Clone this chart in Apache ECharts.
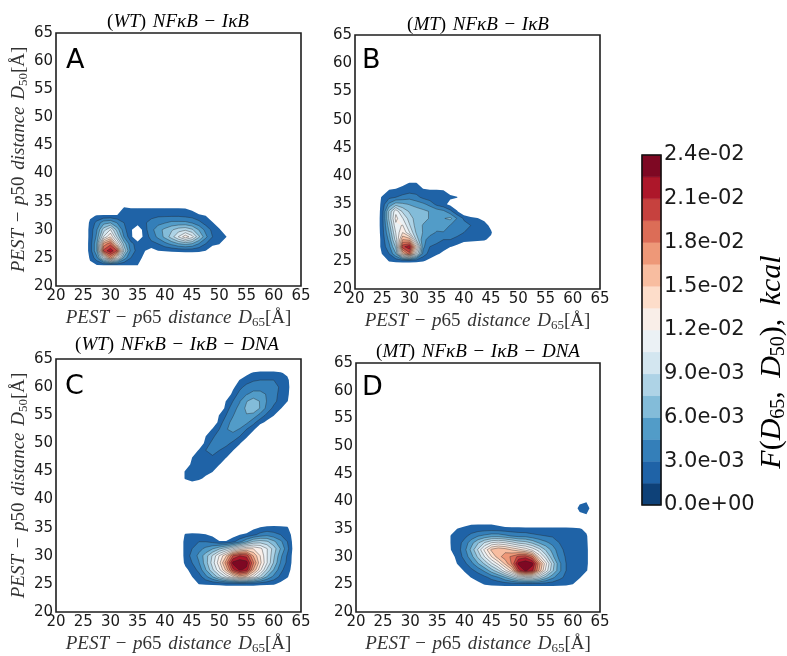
<!DOCTYPE html>
<html>
<head>
<meta charset="utf-8">
<script src="https://cdn.jsdelivr.net/npm/echarts@6/dist/echarts.min.js"></script>
<style>
  html, body { margin: 0; padding: 0; background: #fff; }
  #chart { width: 787px; height: 656px; }
</style>
</head>
<body>
<div id="chart"></div>
<script>
// ---------------- data ----------------
// densities are given in units of 1e-3 (kcal), sampled every 1.25 Å
const UNIT = 1e-3;
const SAMPLE_STEP = 1.25;
const AXIS_MIN = 20, AXIS_MAX = 65, AXIS_INTERVAL = 5;

// filled-contour level boundaries (units of 1e-3); samples below the
// second level are left blank, as in the masked original field
const levels = [0, 1.5, 3, 4.5, 6, 7.5, 9, 10.5, 12, 13.5, 15, 16.5, 18, 19.5, 21, 22.5, 24];
const firstShownBand = 1;
const colorbarTicks = [0, 3, 6, 9, 12, 15, 18, 21, 24];

const panelTitles = [['WT', ''], ['MT', ''], ['WT', 'DNA'], ['MT', 'DNA']];
const panelLetters = ['A', 'B', 'C', 'D'];

// each row: [D50, first D65, densities at D65, D65+1.25, ...]
const densityA = [
  [23.75, 25, [0, 1.2, 1.5, 1.6, 1.6, 1.6, 1.6, 1.6, 1.55, 0, 0, 0, 0, 0, 0, 0, 0, 0, 0, 0, 0, 0, 0]],
  [25,    25, [0, 1.7, 4, 9.7, 17, 11.6, 5.4, 3, 2.1, 1.1, 0, 0, 0, 0, 0, 0, 0, 0, 0, 0, 0, 0, 0]],
  [26.25, 25, [0, 2.1, 5.9, 20, 22.1, 19.5, 8.7, 4, 2.4, 1.6, .75, 1.5, 1.6, 1.7, 1.8, 1.9, 1.9, 1.8, 1.5, 0, 0, 0, 0]],
  [27.5,  25, [0, 2.1, 5.9, 17, 19, 12.5, 6.8, 3.5, 2.3, 2.3, 2.6, 3, 4, 4.9, 5.9, 6.4, 5.9, 4.4, 3, 2.1, 1.6, 0, 0]],
  [28.75, 25, [0, 2, 4.9, 10.6, 13.5, 8.7, 4.4, 1.9, 0, 2.1, 3.5, 4.9, 6.4, 8.3, 10.6, 13, 11.1, 7.8, 4.9, 3, 2.3, 1.6, 0]],
  [30,    25, [0, 2, 4.4, 8.3, 10.6, 6.8, 3.5, 1.8, 0, 2.4, 4, 5.4, 6.4, 7.3, 8.3, 8.7, 7.8, 5.9, 4, 2.6, 1.8, 0, 0]],
  [31.25, 25, [0, 1.8, 3.5, 5.4, 5.9, 4.4, 3, 2.4, 2.3, 2.8, 3.5, 4, 4.4, 4.9, 4.9, 4.9, 4.4, 3.5, 2.4, 1.7, 0, 0, 0]],
  [32.5,  25, [0, 1.2, 1.6, 1.7, 1.7, 1.7, 2.6, 2.4, 2.3, 2.5, 2.6, 2.8, 2.8, 2.8, 2.8, 2.6, 2.4, 1.9, 1.5, 0, 0, 0, 0]],
  [33.75, 25, [0, 0, 0, 0, 0, 0, 1.9, 1.6, 1.6, 1.6, 1.6, 1.6, 1.6, 1.6, 1.6, 1.55, 1.1, 0, 0, 0, 0, 0, 0]]
];

const densityB = [
  [25,    23.75, [0, 0, 1.7, 1.9, 2, 2, 1.9, 1.7, 1.1, 0, 0, 0, 0, 0, 0, 0, 0, 0, 0]],
  [26.25, 23.75, [0, 1.6, 3, 5.9, 15, 19, 10.6, 4, 2.3, 1.8, 1.1, 0, 0, 0, 0, 0, 0, 0, 0]],
  [27.5,  23.75, [0, 2.1, 4, 7.8, 20.5, 22.1, 13.5, 4.9, 3, 2.6, 2.1, 1.6, 1.1, 0, 0, 0, 0, 0, 0]],
  [28.75, 23.75, [0, 2.1, 4.9, 9.7, 16.5, 16, 8.7, 4.9, 4, 3.5, 3, 3, 2.6, 2.3, 2.1, 1.9, 1.7, 1.1, 0]],
  [30,    23.75, [0, 2.3, 5.9, 10.6, 13.5, 10.6, 7.3, 5.9, 4.9, 4.4, 4.4, 4, 3.5, 3, 3, 2.6, 2.3, 1.7, 0]],
  [31.25, 23.75, [0, 2.4, 6.8, 11.6, 12.1, 9.2, 6.8, 5.9, 5.4, 4.9, 5.4, 4.4, 4, 3.5, 3, 2.6, 2.1, 1.1, 0]],
  [32.5,  23.75, [0, 2.4, 7.8, 12.5, 10.6, 8.3, 6.8, 6.4, 5.9, 5.4, 5.9, 6.4, 4.4, 2.8, 1.9, 1.6, 1.1, 0, 0]],
  [33.75, 23.75, [0, 2.3, 7.8, 11.6, 8.7, 7.3, 6.8, 6.4, 5.9, 5.4, 4.9, 3.5, 1.7, 0, 0, 0, 0, 0, 0]],
  [35,    23.75, [0, 2.1, 4.9, 6.8, 6.4, 5.9, 5.4, 4.9, 4, 2.6, 1.9, 1.1, 0, 0, 0, 0, 0, 0, 0]],
  [36.25, 23.75, [0, 1.8, 2.6, 3, 3.5, 4, 3.5, 2.6, 2.1, 1.6, 1.6, 1.7, 1.6, 0, 0, 0, 0, 0, 0]],
  [37.5,  23.75, [0, 0, 1.6, 1.9, 2.1, 2.3, 2.3, 1.7, 1.6, 1.6, 1.5, 1.1, 0, 0, 0, 0, 0, 0, 0]],
  [38.75, 23.75, [0, 0, 0, 0, 1.1, 1.6, 1.6, .75, 0, 0, 0, 0, 0, 0, 0, 0, 0, 0, 0]]
];

const densityC = [
  [25,    42.5, [0, 0, 0, 1.6, 1.7, 1.8, 1.9, 2, 2, 2, 2, 2, 1.9, 1.8, 1.7, 1.1, 0, 0, 0]],
  [26.25, 42.5, [0, 0, 1.5, 2.3, 4, 5.9, 8.3, 10.6, 13, 15.4, 14.4, 11.6, 8.7, 5.9, 4, 2.6, 1.7, 0, 0]],
  [27.5,  42.5, [0, 1.1, 2.1, 3.5, 5.9, 8.7, 11.6, 15.4, 20.5, 22.8, 22, 16.4, 12.5, 8.7, 5.9, 3.5, 2.1, .75, 0]],
  [28.75, 42.5, [0, 1.9, 3, 4.4, 6.8, 9.7, 13, 17.3, 23, 23.8, 23.2, 18.3, 14, 10.6, 7.3, 4.4, 2.6, .75, 0]],
  [30,    42.5, [0, 2.1, 3.5, 4.9, 6.8, 9.2, 12.1, 14.9, 19.5, 21, 20.5, 16.4, 13.5, 10.6, 7.8, 4.9, 2.8, .75, 0]],
  [31.25, 42.5, [0, 2.1, 3, 4, 4.9, 5.9, 7.3, 8.7, 10.6, 12.5, 13.5, 13.5, 12.5, 10.6, 8.3, 5.9, 3.5, .75, 0]],
  [32.5,  42.5, [0, 2.1, 2.6, 3, 3, 2.6, 1.7, 1.7, 2.6, 4, 5.9, 7.8, 8.3, 7.8, 6.4, 4.9, 3, .75, 0]],
  [33.75, 42.5, [0, 1.7, 1.9, 1.8, 1.6, 1.1, 0, 0, .75, 1.5, 1.9, 2.6, 3.5, 4, 3.5, 3, 2.3, .75, 0]],
  [35,    42.5, [0, 0, 0, 0, 0, 0, 0, 0, 0, 0, 0, 1.1, 1.6, 1.9, 2, 1.9, 1.7, 0, 0]],
  // diagonal branch
  [43.75, 42.5, [0, 1.7, 2.6, 1.9, 1.1, 0, 0, 0, 0, 0, 0, 0, 0, 0, 0, 0, 0, 0]],
  [45,    42.5, [0, 1.7, 3, 2.6, 2.1, 1.6, 0, 0, 0, 0, 0, 0, 0, 0, 0, 0, 0, 0]],
  [46.25, 42.5, [0, 0, 2.1, 3, 2.6, 2.1, 1.6, 0, 0, 0, 0, 0, 0, 0, 0, 0, 0, 0]],
  [47.5,  42.5, [0, 0, 1.5, 2.6, 3, 2.8, 2.1, 1.6, 0, 0, 0, 0, 0, 0, 0, 0, 0, 0]],
  [48.75, 42.5, [0, 0, 0, 1.7, 3, 3.5, 3, 2.3, 1.6, 0, 0, 0, 0, 0, 0, 0, 0, 0]],
  [50,    42.5, [0, 0, 0, 0, 2.1, 3.5, 4, 3.5, 2.6, 1.7, 0, 0, 0, 0, 0, 0, 0, 0]],
  [51.25, 42.5, [0, 0, 0, 0, 1.5, 2.6, 4, 4.4, 4, 3, 1.9, 0, 0, 0, 0, 0, 0, 0]],
  [52.5,  42.5, [0, 0, 0, 0, 0, 1.7, 3, 4.4, 4.9, 4.4, 3, 1.9, 0, 0, 0, 0, 0, 0]],
  [53.75, 42.5, [0, 0, 0, 0, 0, 0, 2.1, 4, 4.9, 5.4, 4.9, 3.5, 2.1, 1.1, 0, 0, 0, 0]],
  [55,    42.5, [0, 0, 0, 0, 0, 0, 1.6, 3, 4.4, 5.4, 5.9, 5.4, 4, 2.6, 1.6, 0, 0, 0]],
  [56.25, 42.5, [0, 0, 0, 0, 0, 0, 0, 2.1, 4, 4.9, 6.4, 7.3, 5.9, 4, 2.6, 1.7, 0, 0]],
  [57.5,  42.5, [0, 0, 0, 0, 0, 0, 0, 1.6, 3, 4.4, 5.9, 6.8, 5.9, 4.4, 3.5, 2.3, 1.6, 0]],
  [58.75, 42.5, [0, 0, 0, 0, 0, 0, 0, 0, 2.1, 3.5, 4.4, 4.9, 4.9, 4.4, 3.5, 2.6, 1.9, 0]],
  [60,    42.5, [0, 0, 0, 0, 0, 0, 0, 0, 1.1, 2.6, 3.5, 4, 4, 4, 3.5, 2.8, 2.1, 0]],
  [61.25, 42.5, [0, 0, 0, 0, 0, 0, 0, 0, 0, 1.6, 2.3, 2.8, 3, 3, 3, 2.6, 1.9, 0]],
  [62.5,  42.5, [0, 0, 0, 0, 0, 0, 0, 0, 0, 0, 1.1, 1.7, 1.9, 1.9, 1.9, 1.7, 1.1, 0]]
];

const densityD = [
  [25,    36.25, [0, 0, 0, 0, 0, 1.1, 1.6, 1.8, 1.9, 2, 2, 2, 2, 2, 2, 2, 2, 1.9, 1.8, 1.5, 0, 0, 0, 0]],
  [26.25, 36.25, [0, 0, 0, 0, 1.6, 2.1, 2.6, 3.5, 4.4, 5.9, 7.8, 9.7, 10.6, 10.6, 9.2, 6.8, 4.9, 3.5, 2.6, 2.1, 1.7, 0, 0, 0]],
  [27.5,  36.25, [0, 0, 0, 1.8, 2.6, 3.5, 4.9, 6.8, 8.7, 11.6, 14.4, 20.5, 22.8, 21.5, 16.4, 11.6, 7.8, 4.9, 3, 2.4, 2.1, 1.7, 0, 0]],
  [28.75, 36.25, [0, 0, 1.7, 2.6, 4, 5.9, 7.8, 10.2, 12.5, 15.4, 18.3, 23, 23.8, 23, 17.3, 12.5, 8.3, 4.9, 3, 2.4, 2.3, 1.9, 0, 0]],
  [30,    36.25, [0, .75, 2.1, 3.5, 5.4, 7.8, 10.6, 13.5, 15.9, 17.3, 18.3, 20, 20.5, 18.5, 13, 9.7, 6.4, 4, 2.8, 2.4, 2.3, 1.9, 0, 0]],
  [31.25, 36.25, [0, 1.5, 2.3, 4, 6.4, 9.2, 12.5, 15.4, 16.4, 15.9, 14.9, 14, 13, 11.6, 9.7, 7.3, 5.4, 3.5, 2.6, 2.4, 2.3, 1.9, 0, 0]],
  [32.5,  36.25, [0, 1.6, 2.4, 3.5, 5.4, 7.3, 9.2, 10.6, 11.1, 10.6, 9.7, 8.7, 8.3, 7.3, 5.9, 4.9, 4, 3, 2.6, 2.3, 2.2, 1.8, 0, 0]],
  [33.75, 36.25, [0, 1.6, 2.1, 2.6, 3.5, 4.4, 4.9, 5.4, 5.4, 4.9, 4.4, 4, 4, 3.5, 3.2, 3, 2.8, 2.6, 2.4, 2.3, 2.1, 1.7, 0, 0]],
  [35,    36.25, [0, .75, 1.6, 1.9, 2.1, 2.2, 2.3, 2.3, 2.2, 2.1, 2, 2, 1.9, 1.9, 1.9, 1.9, 1.9, 1.9, 1.9, 1.8, 1.7, 1.1, 0, 0]],
  [36.25, 36.25, [0, 0, 0, .75, 1.1, 1.1, 1.1, 1.1, .75, 0, 0, 0, 0, 0, 0, 0, 0, 0, 0, 0, 0, 0, 0, 0]],
  [37.5,  36.25, [0, 0, 0, 0, 0, 0, 0, 0, 0, 0, 0, 0, 0, 0, 0, 0, 0, 0, 0, 0, .9, 1.3, 0, 0]],
  [38.75, 36.25, [0, 0, 0, 0, 0, 0, 0, 0, 0, 0, 0, 0, 0, 0, 0, 0, 0, 0, 0, 0, 2.2, 2.7, 0, 0]],
  [40,    36.25, [0, 0, 0, 0, 0, 0, 0, 0, 0, 0, 0, 0, 0, 0, 0, 0, 0, 0, 0, 0, .9, 1.3, 0, 0]]
];

const panelDensities = [densityA, densityB, densityC, densityD];

// ---------------- layout & style ----------------
const panelBoxes = [
  { left: 56,  top: 33,  width: 245, height: 253 },
  { left: 355, top: 35,  width: 245, height: 254 },
  { left: 56,  top: 359, width: 245, height: 253 },
  { left: 356, top: 363, width: 244, height: 252 }
];
const colorbarBox = { left: 642, top: 155, width: 19, height: 350 };

// RdBu colormap, reversed (low = blue, high = red)
const rdbuStops = ['#053061', '#2166ac', '#4393c3', '#92c5de', '#d1e5f0', '#f7f7f7',
                   '#fddbc7', '#f4a582', '#d6604d', '#b2182b', '#67001f'];
function hexToRgb(h) { return [1, 3, 5].map(i => parseInt(h.substr(i, 2), 16)); }
function cmap(t) {
  const s = t * (rdbuStops.length - 1);
  const i = Math.min(Math.floor(s), rdbuStops.length - 2);
  const f = s - i;
  const a = hexToRgb(rdbuStops[i]), b = hexToRgb(rdbuStops[i + 1]);
  const c = a.map((v, k) => Math.round(v + (b[k] - v) * f));
  return 'rgb(' + c.join(',') + ')';
}
const nBands = levels.length - 1;
const bandColors = levels.slice(0, -1).map((_, k) => cmap((k + 0.5) / nBands));

// ---------------- density field and contouring ----------------
function buildField(rows) {
  const n = Math.round((AXIS_MAX - AXIS_MIN) / SAMPLE_STEP) + 1;
  const f = Array.from({ length: n }, () => new Array(n).fill(0));
  rows.forEach(([y, x0, vals]) => {
    const j = Math.round((y - AXIS_MIN) / SAMPLE_STEP);
    const i0 = Math.round((x0 - AXIS_MIN) / SAMPLE_STEP);
    vals.forEach((v, k) => { f[j][i0 + k] = v; });
  });
  return f;
}

// thresholds sit a hair above each level so samples lying exactly on a level
// do not produce degenerate pieces along the sample lattice
const EPS = 1e-3;

// one compound path per filled band (seamless union of the cell pieces),
// plus one path holding every inner contour line
function contourRenderer(field) {
  const n = field.length, S = SAMPLE_STEP;
  return function (params, api) {
    const kind = api.value(0);
    const fmt = p => p[0].toFixed(2) + ' ' + p[1].toFixed(2);
    let d = '';
    const lvls = kind < nBands ? [kind] : levels.slice(firstShownBand + 1, -1).map((_, q) => q + firstShownBand + 1);
    for (let j = 0; j < n - 1; j++) {
      for (let i = 0; i < n - 1; i++) {
        const x0 = AXIS_MIN + i * S, y0 = AXIS_MIN + j * S;
        const c = [
          [x0, y0, field[j][i]], [x0 + S, y0, field[j][i + 1]],
          [x0 + S, y0 + S, field[j + 1][i + 1]], [x0, y0 + S, field[j + 1][i]]
        ];
        const mx = Math.max(c[0][2], c[1][2], c[2][2], c[3][2]);
        if (mx < levels[firstShownBand]) continue;
        const cross = (a, b, L) => {
          const t = (L - a[2]) / (b[2] - a[2]);
          return api.coord([a[0] + t * (b[0] - a[0]), a[1] + t * (b[1] - a[1])]);
        };
        lvls.forEach(k => {
          const L = levels[k] + EPS;
          if (mx < L) return;
          if (kind < nBands) {
            const pts = [];
            for (let m = 0; m < 4; m++) {
              const a = c[m], b = c[(m + 1) % 4];
              if (a[2] >= L) pts.push(api.coord([a[0], a[1]]));
              if ((a[2] >= L) !== (b[2] >= L)) pts.push(cross(a, b, L));
            }
            if (pts.length >= 3) d += 'M' + pts.map(fmt).join('L') + 'Z';
          } else {
            const xs = [];
            for (let m = 0; m < 4; m++) {
              const a = c[m], b = c[(m + 1) % 4];
              if ((a[2] >= L) !== (b[2] >= L)) xs.push(cross(a, b, L));
            }
            for (let q = 0; q + 1 < xs.length; q += 2) d += 'M' + fmt(xs[q]) + 'L' + fmt(xs[q + 1]);
          }
        });
      }
    }
    if (!d) return null;
    if (kind < nBands) {
      return { type: 'path', silent: true, shape: { pathData: d },
               style: { fill: bandColors[kind], stroke: null } };
    }
    return { type: 'path', silent: true, shape: { pathData: d },
             style: { fill: null, stroke: 'rgba(35,35,35,0.55)', lineWidth: 0.7 } };
  };
}

// ---------------- text helpers ----------------
const SERIF = 'Liberation Serif';
const mathRich = (size, color) => ({
  i: { fontFamily: SERIF, fontStyle: 'italic', fontSize: size, color },
  n: { fontFamily: SERIF, fontSize: size, color },
  s: { fontFamily: SERIF, fontSize: Math.round(size * 0.68), color, padding: [Math.round(size * 0.45), 0, 0, 0] }
});
const xName = '{i|PEST}  {n|−}  {i|p}{n|65}  {i|distance}  {i|D}{s|65}{n|[Å]}';
const yName = '{i|PEST}  {n|−}  {i|p}{n|50}  {i|distance}  {i|D}{s|50}{n|[Å]}';

function sciLabel(v) {
  if (Math.abs(v) < 1e-12) return '0.0e+00';
  const e = Math.floor(Math.log10(v) + 1e-9);
  const m = v / Math.pow(10, e);
  return m.toFixed(1) + 'e' + (e < 0 ? '-' : '+') + String(Math.abs(e)).padStart(2, '0');
}

// ---------------- option ----------------
const grids = [], xAxes = [], yAxes = [], series = [];
// draw items: one per shown band, then the contour lines
const drawItems = [];
for (let k = firstShownBand; k < nBands; k++) drawItems.push([k, k]);
drawItems.push([nBands, nBands]);

panelBoxes.forEach((box, p) => {
  grids.push(Object.assign({ show: true, borderColor: '#1e1e1e', borderWidth: 1.6, backgroundColor: '#fff' }, box));
  xAxes.push({
    gridIndex: p, type: 'value', min: AXIS_MIN, max: AXIS_MAX, interval: AXIS_INTERVAL,
    axisLine: { show: false }, axisTick: { show: false }, splitLine: { show: false },
    axisLabel: { fontFamily: 'DejaVu Sans', fontSize: 15, color: '#1a1a1a', margin: 3 },
    name: xName, nameLocation: 'middle', nameGap: 21,
    nameTextStyle: { rich: mathRich(19, '#333') }
  });
  yAxes.push({
    gridIndex: p, type: 'value', min: AXIS_MIN, max: AXIS_MAX, interval: AXIS_INTERVAL,
    axisLine: { show: false }, axisTick: { show: false }, splitLine: { show: false },
    axisLabel: { fontFamily: 'DejaVu Sans', fontSize: 15, color: '#1a1a1a', margin: 3 },
    name: p % 2 === 0 ? yName : '', nameLocation: 'middle', nameGap: 21,
    nameTextStyle: { rich: mathRich(19, '#333') }
  });
  const field = buildField(panelDensities[p]);
  series.push({
    type: 'custom', xAxisIndex: p, yAxisIndex: p,
    data: drawItems, renderItem: contourRenderer(field),
    silent: true, animation: false, clip: true
  });
});

// colorbar
grids.push(Object.assign({ show: true, borderColor: '#111', borderWidth: 1.6, backgroundColor: 'transparent', z: 5 }, colorbarBox));
xAxes.push({ gridIndex: 4, type: 'value', min: 0, max: 1, show: false });
yAxes.push({
  gridIndex: 4, type: 'value', position: 'right',
  min: levels[0] * UNIT, max: levels[levels.length - 1] * UNIT,
  interval: (colorbarTicks[1] - colorbarTicks[0]) * UNIT,
  axisLine: { show: false }, axisTick: { show: false }, splitLine: { show: false },
  axisLabel: {
    fontFamily: 'DejaVu Sans', fontSize: 21, color: '#1a1a1a', margin: 3,
    formatter: v => sciLabel(v)
  }
});
series.push({
  type: 'custom', xAxisIndex: 4, yAxisIndex: 4, silent: true, animation: false,
  data: levels.slice(0, -1).map((L, k) => [L * UNIT, levels[k + 1] * UNIT, k]),
  encode: { y: [0, 1] },
  renderItem: function (params, api) {
    const p0 = api.coord([0, api.value(0)]);
    const p1 = api.coord([1, api.value(1)]);
    return {
      type: 'rect', silent: true,
      shape: { x: p0[0], y: p1[1], width: p1[0] - p0[0], height: p0[1] - p1[1] },
      style: { fill: bandColors[api.value(2)], stroke: bandColors[api.value(2)], lineWidth: 0.5 }
    };
  }
});

// titles, panel letters and colorbar caption
const titleCenters = [[178, 22], [478, 25], [177, 345], [478, 352]];
const letterPos = [[66, 61], [362, 61], [65, 387], [362, 388]];
const graphics = [];
panelTitles.forEach(([kind, extra], p) => {
  const txt = '{n|(}{i|' + kind + '}{n|)}  {i|NFκB}  {n|−}  {i|IκB}' + (extra ? '  {n|−}  {i|' + extra + '}' : '');
  graphics.push({
    type: 'text', x: titleCenters[p][0], y: titleCenters[p][1], silent: true,
    style: { text: txt, align: 'center', verticalAlign: 'middle', rich: mathRich(19, '#444') }
  });
  graphics.push({
    type: 'text', x: letterPos[p][0], y: letterPos[p][1], silent: true, z: 100,
    style: { text: panelLetters[p], align: 'left', verticalAlign: 'middle',
             fontFamily: 'DejaVu Sans', fontSize: 27, fill: '#000' }
  });
});
graphics.push({
  type: 'text', x: 772, y: 362, rotation: Math.PI / 2, silent: true,
  style: {
    text: '{i|F}{n|(}{i|D}{s|65}{n|,}    {i|D}{s|50}{n|),}    {i|kcal}',
    align: 'center', verticalAlign: 'middle', rich: mathRich(30, '#333')
  }
});

const chart = echarts.init(document.getElementById('chart'), null, { renderer: 'canvas' });
chart.setOption({
  backgroundColor: '#fff',
  animation: false,
  grid: grids, xAxis: xAxes, yAxis: yAxes, series,
  graphic: graphics
});
</script>
</body>
</html>
